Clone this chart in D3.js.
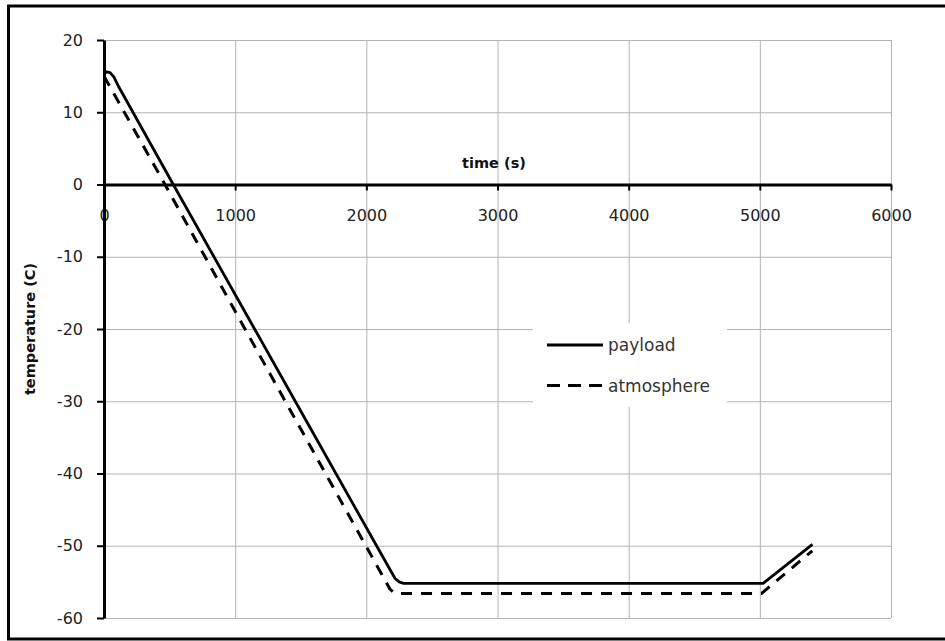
<!DOCTYPE html>
<html>
<head>
<meta charset="utf-8">
<script src="https://cdn.jsdelivr.net/npm/d3@7"></script>
<style>
  body { margin: 0; background: #fff; }
  .tick text { font-family: "DejaVu Sans", sans-serif; font-size: 16px; fill: #222; }
  .label { font-family: "DejaVu Sans", sans-serif; font-weight: bold; font-size: 14.5px; fill: #111; }
  .legend text { font-family: "DejaVu Sans", sans-serif; font-size: 17px; fill: #333; }
  .grid line { stroke: #b4b4b4; stroke-width: 1; }
  .grid path { display: none; }
</style>
</head>
<body>
<svg width="945" height="641"></svg>
<script>
// values
const payloadTime = [0, 20, 45, 75, 110, 528, 1148, 1458, 2078, 2218, 2250, 2285, 5025, 5401];
const payloadTemp = [15.3, 15.6, 15.5, 14.9, 13.6, 0, -20, -30, -50, -54.5, -55.0, -55.2, -55.2, -49.8];
const atmosTime = [0, 465, 1075, 1382, 1996, 2180, 2218, 5013, 5400];
const atmosTemp = [15.0, 0, -20, -30, -50, -56.0, -56.6, -56.6, -50.7];
const xTicks = [0, 1000, 2000, 3000, 4000, 5000, 6000];
const yTicks = [20, 10, 0, -10, -20, -30, -40, -50, -60];
const seriesNames = ['payload', 'atmosphere'];

const svg = d3.select('svg');
const plotLeft = 104, plotRight = 891, plotTop = 40, plotBottom = 618;

const xScale = d3.scaleLinear().domain([0, 6000]).range([plotLeft, plotRight]);
const yScale = d3.scaleLinear().domain([-60, 20]).range([plotBottom, plotTop]);

// outer frame
svg.append('rect')
  .attr('x', 8.5).attr('y', 6)
  .attr('width', 945).attr('height', 633)
  .attr('fill', 'none')
  .attr('stroke', '#000')
  .attr('stroke-width', 3);

// grid
svg.append('g')
  .attr('class', 'grid')
  .attr('transform', `translate(0, ${plotBottom})`)
  .call(d3.axisBottom(xScale).tickValues(xTicks).tickSize(-(plotBottom - plotTop)).tickFormat(''));

svg.append('g')
  .attr('class', 'grid')
  .attr('transform', `translate(${plotLeft}, 0)`)
  .call(d3.axisLeft(yScale).tickValues(yTicks).tickSize(-(plotRight - plotLeft)).tickFormat(''));

// legend box hides the grid behind it
const legend = svg.append('g').attr('class', 'legend');
legend.append('rect')
  .attr('x', 533).attr('y', 323)
  .attr('width', 194).attr('height', 84)
  .attr('fill', '#fff');

// x axis sits on y = 0
const xAxis = svg.append('g')
  .attr('transform', `translate(0, ${yScale(0)})`)
  .call(d3.axisBottom(xScale).tickValues(xTicks).tickFormat(d => String(d))
    .tickSize(6).tickPadding(19).tickSizeOuter(0));
xAxis.select('.domain').attr('stroke', '#000').attr('stroke-width', 3);
xAxis.selectAll('.tick line').attr('stroke', '#000').attr('stroke-width', 2);

const yAxis = svg.append('g')
  .attr('transform', `translate(${plotLeft}, 0)`)
  .call(d3.axisLeft(yScale).tickValues(yTicks).tickFormat(d => String(d))
    .tickSize(7).tickPadding(14).tickSizeOuter(0));
yAxis.select('.domain').attr('stroke', '#000').attr('stroke-width', 3);
yAxis.selectAll('.tick line').attr('stroke', '#000').attr('stroke-width', 2);

const line = d3.line()
  .x(d => xScale(d[0]))
  .y(d => yScale(d[1]));

svg.append('path')
  .datum(payloadTime.map((t, i) => [t, payloadTemp[i]]))
  .attr('fill', 'none')
  .attr('stroke', '#000')
  .attr('stroke-width', 2.8)
  .attr('stroke-linejoin', 'round')
  .attr('d', line);

svg.append('path')
  .datum(atmosTime.map((t, i) => [t, atmosTemp[i]]))
  .attr('fill', 'none')
  .attr('stroke', '#000')
  .attr('stroke-width', 3)
  .attr('stroke-dasharray', '11,9')
  .attr('d', line);

// legend entries
seriesNames.forEach((name, i) => {
  const y = 345 + i * 40.5;
  legend.append('line')
    .attr('x1', 547).attr('x2', 603)
    .attr('y1', y).attr('y2', y)
    .attr('stroke', '#000')
    .attr('stroke-width', 3)
    .attr('stroke-dasharray', i ? '13,8' : null);
  legend.append('text')
    .attr('x', 608)
    .attr('y', y + 6)
    .text(name);
});

svg.append('text')
  .attr('class', 'label')
  .attr('x', 494)
  .attr('y', 168)
  .attr('text-anchor', 'middle')
  .text('time (s)');

svg.append('text')
  .attr('class', 'label')
  .attr('x', -329)
  .attr('y', 35)
  .attr('transform', 'rotate(-90)')
  .attr('text-anchor', 'middle')
  .text('temperature (C)');
</script>
</body>
</html>
